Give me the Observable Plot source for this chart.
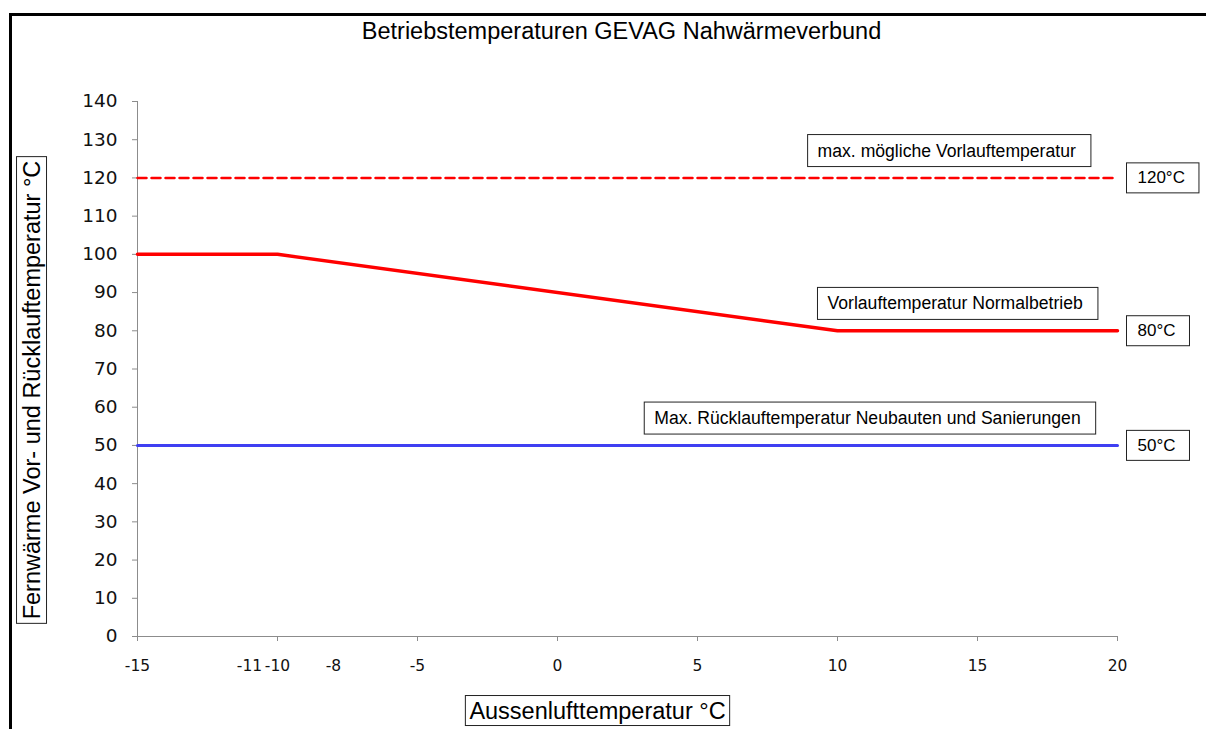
<!DOCTYPE html>
<html><head><meta charset="utf-8">
<script src="https://cdn.jsdelivr.net/npm/d3@7"></script>
<script src="https://cdn.jsdelivr.net/npm/@observablehq/plot@0.6"></script>
<style>
html,body{margin:0;padding:0;background:#fff;overflow:hidden;width:1206px;height:729px;}
#chart{position:absolute;left:0;top:0;}
#frame{position:absolute;left:9px;top:13px;width:1400px;height:900px;border:3px solid #000;box-sizing:border-box;z-index:5;pointer-events:none;}
</style></head><body>
<div id="chart"></div>
<div id="frame"></div>
<script>
// ---- data ----
const chartTitle = "Betriebstemperaturen GEVAG Nahwärmeverbund";
const xTitle = "Aussenlufttemperatur °C";
const yTitle = "Fernwärme Vor- und Rücklauftemperatur °C";

const xTicks = [-15, -10, -5, 0, 5, 10, 15, 20];
const xExtraTicks = [-11, -8];
const yTicks = [0, 10, 20, 30, 40, 50, 60, 70, 80, 90, 100, 110, 120, 130, 140];

const supplyX = [-15, -10, 10, 20];
const supplyY = [100, 100, 80, 80];
const maxSupplyX = [-15, 20];
const maxSupplyY = [120, 120];
const returnX = [-15, 20];
const returnY = [50, 50];

const refValues = [120, 80, 50];
const refLabels = ["120°C", "80°C", "50°C"];

const annTexts = ["max. mögliche Vorlauftemperatur", "Vorlauftemperatur Normalbetrieb", "Max. Rücklauftemperatur Neubauten und Sanierungen"];
const annX = [13.9, 14.2, 11.07];
const annY = [120, 80, 50];

// ---- tables ----
const supply = supplyX.map((x, i) => ({x, y: supplyY[i]}));
const maxSupply = maxSupplyX.map((x, i) => ({x, y: maxSupplyY[i]}));
const ret = returnX.map((x, i) => ({x, y: returnY[i]}));
const refs = refValues.map((v, i) => ({y: v, label: refLabels[i]}));
const anns = annTexts.map((t, i) => ({x: annX[i], y: annY[i], text: t}));

const AX = "#8c8c8c";
const fmt = d => String(d);
const plot = Plot.plot({
  width: 1206,
  height: 729,
  marginLeft: 137,
  marginRight: 89,
  marginTop: 101,
  marginBottom: 93,
  style: {background: "transparent", fontFamily: "DejaVu Sans", color: "#1a1a1a", overflow: "visible"},
  x: {domain: [-15, 20], label: null},
  y: {domain: [0, 140], label: null},
  marks: [
    Plot.ruleX([-15], {stroke: AX, strokeWidth: 1}),
    Plot.ruleY([0], {stroke: AX, strokeWidth: 1}),
    Plot.axisY(yTicks, {tickSize: 5, tickPadding: 15, tickFormat: fmt, fontSize: 18.5, fontFamily: "DejaVu Sans", stroke: AX, fill: "#111", label: null}),
    Plot.axisX(xTicks, {tickSize: 5, tickPadding: 18, tickFormat: fmt, fontSize: 15.5, fontFamily: "DejaVu Sans", stroke: AX, fill: "#111", label: null}),
    Plot.axisX(xExtraTicks, {tickSize: 0, tickPadding: 23, tickFormat: fmt, fontSize: 15.5, fontFamily: "DejaVu Sans", stroke: "none", fill: "#111", label: null}),
    Plot.line(maxSupply, {x: "x", y: "y", stroke: "#ff0000", strokeWidth: 2.5, strokeDasharray: "9,5"}),
    Plot.line(ret, {x: "x", y: "y", stroke: "#3f3ff2", strokeWidth: 3}),
    Plot.line(supply, {x: "x", y: "y", stroke: "#ff0000", strokeWidth: 3.5, strokeLinejoin: "round"}),
    Plot.text(refs, {x: () => 20, y: "y", text: "label", dx: 20, textAnchor: "start", lineAnchor: "middle", fontSize: 17, fontFamily: "Liberation Sans", fill: "#000"}),
    Plot.text(anns, {x: "x", y: "y", text: "text", dy: -27, textAnchor: "middle", lineAnchor: "middle", fontSize: 17.6, fontFamily: "Liberation Sans", fill: "#000"}),
    Plot.text([chartTitle], {frameAnchor: "top", dx: -6, dy: -70, textAnchor: "middle", lineAnchor: "middle", fontSize: 23.5, fontFamily: "Liberation Sans", fill: "#000"}),
    Plot.text([yTitle], {frameAnchor: "left", rotate: -90, dx: -105.5, dy: 21, textAnchor: "middle", lineAnchor: "middle", fontSize: 23.5, fontFamily: "Liberation Sans", fill: "#000"}),
    Plot.text([xTitle], {frameAnchor: "bottom", dx: -30, dy: 74.5, textAnchor: "middle", lineAnchor: "middle", fontSize: 23.5, fontFamily: "Liberation Sans", fill: "#000"})
  ]
});
document.getElementById("chart").append(plot);

// boxes drawn around the boxed labels (padding left, right, y)
const boxed = new Map();
refLabels.forEach(t => boxed.set(t, [11, 14, 5.5]));
annTexts.forEach(t => boxed.set(t, [10, 15, 6]));
boxed.set(xTitle, [4, 4, 2]);
boxed.set(yTitle, [4, 4, 2]);
const NS = "http://www.w3.org/2000/svg";
plot.querySelectorAll("text").forEach(t => {
  const pad = boxed.get(t.textContent);
  if (!pad) return;
  const [pl, pr, py] = pad;
  const b = t.getBBox();
  const r = document.createElementNS(NS, "rect");
  r.setAttribute("x", b.x - pl);
  r.setAttribute("y", b.y - py);
  r.setAttribute("width", b.width + pl + pr);
  r.setAttribute("height", b.height + 2 * py);
  r.setAttribute("fill", "#fff");
  r.setAttribute("stroke", "#222");
  r.setAttribute("stroke-width", 1);
  const tr = t.getAttribute("transform");
  if (tr) r.setAttribute("transform", tr);
  t.parentNode.insertBefore(r, t);
});
</script>
</body></html>
